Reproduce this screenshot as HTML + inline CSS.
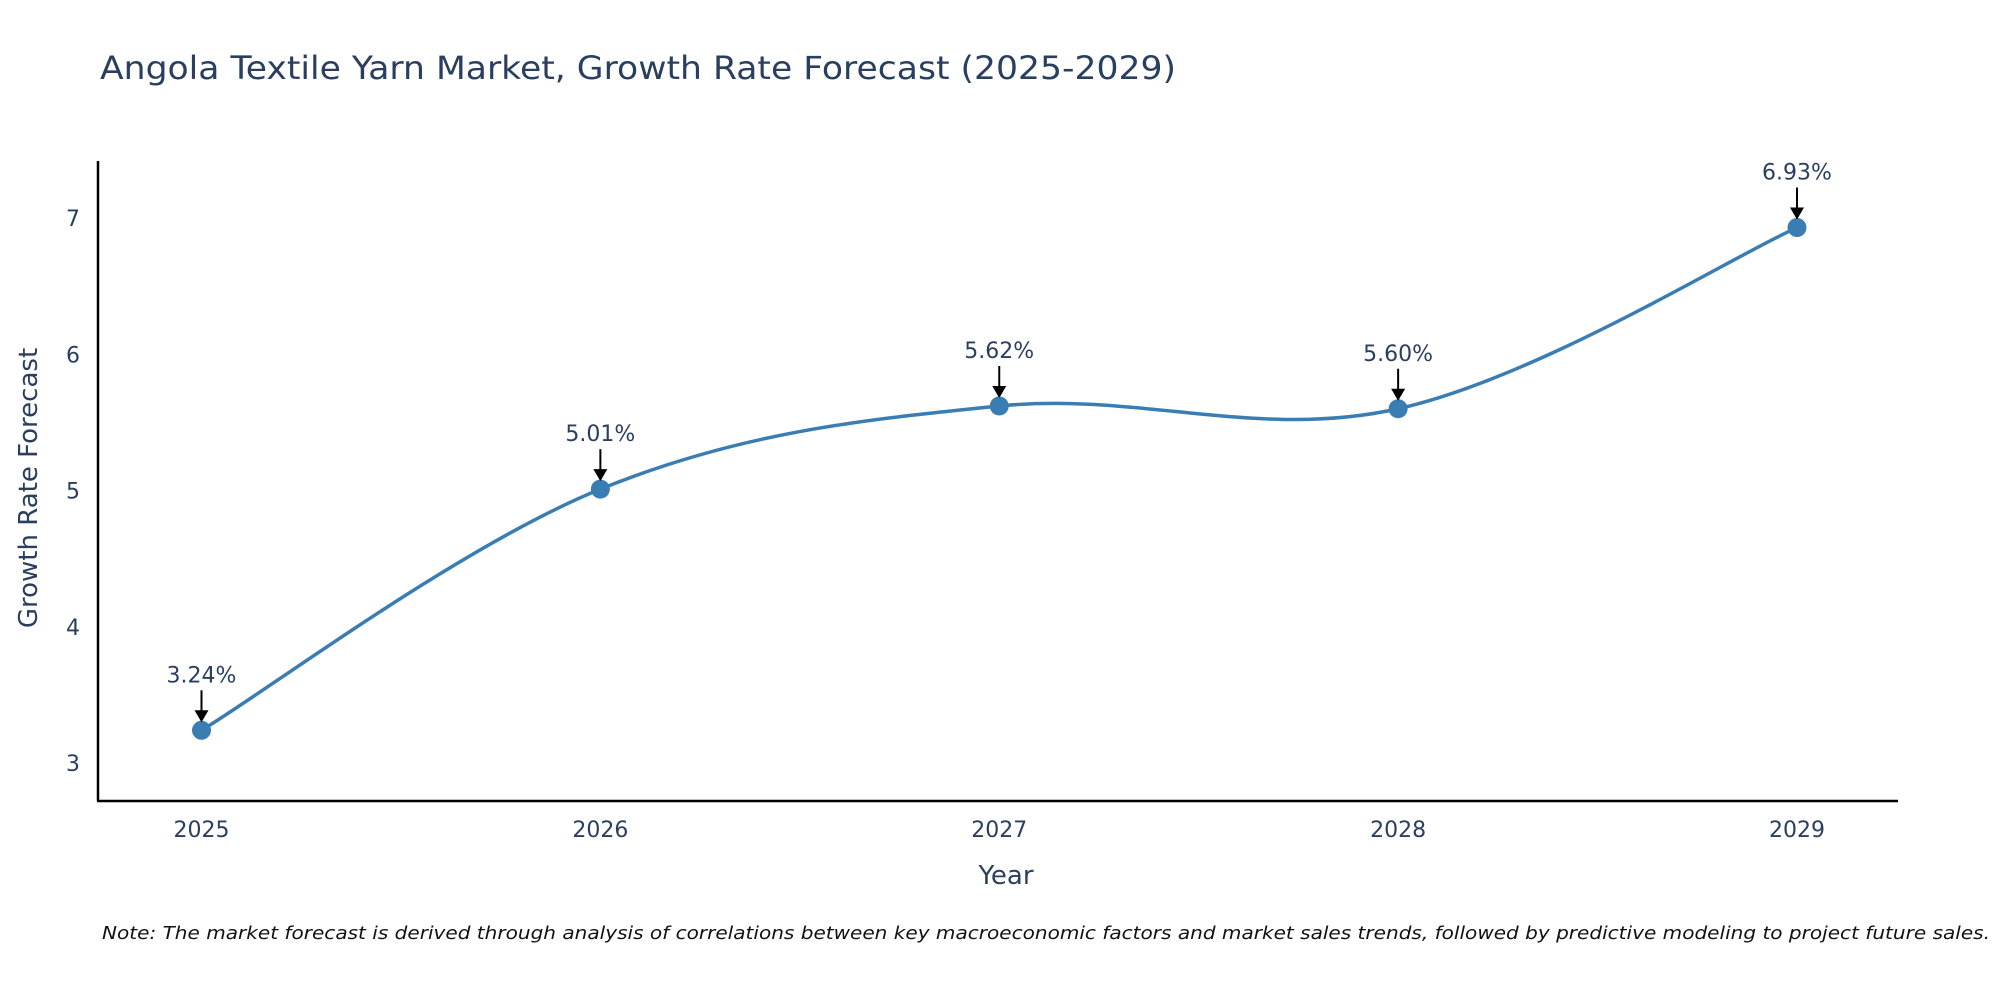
<!DOCTYPE html>
<html><head><meta charset="utf-8">
<style>
html,body{margin:0;padding:0;background:#fff;}
body{width:2000px;height:1000px;overflow:hidden;font-family:"DejaVu Sans","Liberation Sans",sans-serif;}
svg text{font-family:"DejaVu Sans","Liberation Sans",sans-serif;}
</style></head>
<body>
<svg id="chart" width="2000" height="1000" xmlns="http://www.w3.org/2000/svg">
<text x="100" y="79" font-size="32" fill="#2a3f5f" textLength="1076" lengthAdjust="spacingAndGlyphs">Angola Textile Yarn Market, Growth Rate Forecast (2025-2029)</text>
<g id="axes"></g>
<g id="series"></g>
<text x="1006" y="884" font-size="26" fill="#2a3f5f" text-anchor="middle">Year</text>
<text transform="translate(37,488) rotate(-90)" font-size="26" fill="#2a3f5f" text-anchor="middle">Growth Rate Forecast</text>
<text x="102" y="939" font-size="18" font-style="italic" fill="#111" textLength="1888" lengthAdjust="spacingAndGlyphs">Note: The market forecast is derived through analysis of correlations between key macroeconomic factors and market sales trends, followed by predictive modeling to project future sales.</text>
</svg>
<script>
const years = [2025, 2026, 2027, 2028, 2029];
const growthRates = [3.24, 5.01, 5.62, 5.60, 6.93];
const yTicks = [3, 4, 5, 6, 7];

const NS = "http://www.w3.org/2000/svg";
const X0 = 201.5, X1 = 1797;
const Y_AT3 = 763, Y_PER = 136.25;
function xScale(i){ return X0 + (X1 - X0) * i / (years.length - 1); }
function yScale(v){ return Y_AT3 - (v - 3) * Y_PER; }
function mk(tag, attrs, parent){ const e = document.createElementNS(NS, tag); for (const k in attrs) e.setAttribute(k, attrs[k]); parent.appendChild(e); return e; }

const axes = document.getElementById('axes');
const yAxis = mk('line', {x1:98, y1:161, x2:98, y2:801, stroke:'#000', 'stroke-width':2.5}, axes);


const xAxis = mk('line', {x1:97, y1:801, x2:1898, y2:801, stroke:'#000', 'stroke-width':2.5}, axes);



yTicks.forEach(t => {
  const tx = mk('text', {x:80, y:yScale(t)+8, 'font-size':22, fill:'#2a3f5f', 'text-anchor':'end'}, axes);
  tx.textContent = t;
  
  
});
years.forEach((yr, i) => {
  const tx = mk('text', {x:xScale(i), y:837, 'font-size':22, fill:'#2a3f5f', 'text-anchor':'middle'}, axes);
  tx.textContent = yr;
  
  
});

const series = document.getElementById('series');
const pts = growthRates.map((v, i) => [xScale(i), yScale(v)]);
let d = `M${pts[0][0]},${pts[0][1]}`;
const k = 0.35;
for (let i = 0; i < pts.length - 1; i++) {
  const p0 = pts[Math.max(i-1,0)], p1 = pts[i], p2 = pts[i+1], p3 = pts[Math.min(i+2, pts.length-1)];
  const c1 = [p1[0] + (p2[0]-p0[0])*k/2, p1[1] + (p2[1]-p0[1])*k/2];
  const c2 = [p2[0] - (p3[0]-p1[0])*k/2, p2[1] - (p3[1]-p1[1])*k/2];
  d += ` C${c1[0]},${c1[1]} ${c2[0]},${c2[1]} ${p2[0]},${p2[1]}`;
}
const line = mk('path', {d:d, fill:'none', stroke:'#3a7db2', 'stroke-width':3.5}, series);



pts.forEach((p, i) => {
  const c = mk('circle', {cx:p[0], cy:p[1], r:9.5, fill:'#3a7db2'}, series);
  
  
  const a = mk('line', {x1:p[0], y1:p[1]-40, x2:p[0], y2:p[1]-18, stroke:'#000', 'stroke-width':2}, series);
  
  
  const h = mk('polygon', {points:`${p[0]-7},${p[1]-20} ${p[0]+7},${p[1]-20} ${p[0]},${p[1]-8}`, fill:'#000'}, series);
  
  
  const t = mk('text', {x:p[0], y:p[1]-48, 'font-size':22, fill:'#2a3f5f', 'text-anchor':'middle'}, series);
  t.textContent = growthRates[i].toFixed(2) + '%';
  
  
});
</script>
</body></html>
